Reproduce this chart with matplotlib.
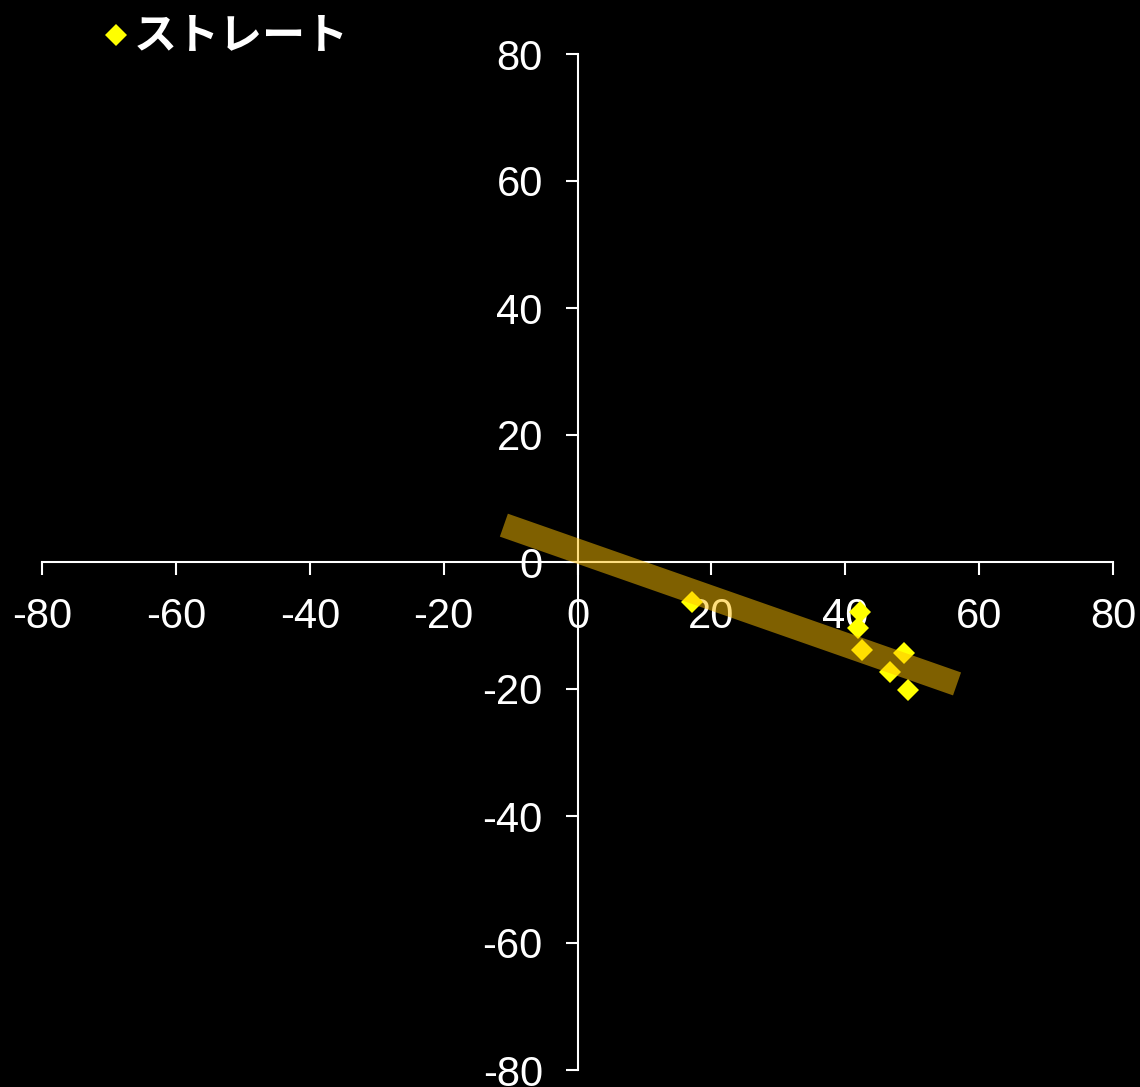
import matplotlib.pyplot as plt
from matplotlib.lines import Line2D

# pitch data (horizontal / vertical break)
series_name = 'ストレート'
pitch_x = [17.1, 42.2, 41.9, 42.5, 48.8, 46.7, 49.4]
pitch_y = [-6.3, -7.9, -10.4, -13.9, -14.3, -17.3, -20.2]

# trend band endpoints
trend_x = [-11.0, 56.7]
trend_y = [5.8, -19.2]

ticks = [-80, -60, -40, -20, 0, 20, 40, 60, 80]

plt.rcParams['font.family'] = ['Liberation Sans', 'DejaVu Sans']

W, H = 1140, 1087
fig = plt.figure(figsize=(W / 100, H / 100), dpi=100, facecolor='black')
ax = fig.add_axes([42 / W, (H - 1070) / H, (1113 - 42) / W, (1070 - 54) / H])
ax.set_facecolor('black')

ax.plot(pitch_x, pitch_y, linestyle='none', marker='D', markersize=11,
        color='#FFFF00', markeredgewidth=0, zorder=3, clip_on=False)
ax.plot(trend_x, trend_y, color='#FFC000', alpha=0.5, linewidth=17.5,
        solid_capstyle='butt', zorder=6)

ax.set_xlim(-80, 80)
ax.set_ylim(-80, 80)

for side in ['top', 'right']:
    ax.spines[side].set_visible(False)
ax.spines['left'].set_position(('data', 0))
ax.spines['bottom'].set_position(('data', 0))
for side in ['left', 'bottom']:
    ax.spines[side].set_color('white')
    ax.spines[side].set_linewidth(1.5)

ax.set_xticks(ticks)
ax.set_yticks(ticks)
ax.set_xticklabels([str(t) for t in ticks])
ax.set_yticklabels([str(t) for t in ticks])
ax.tick_params(colors='white', labelsize=30, length=9, width=1.5,
               direction='out', pad=16)

# legend
fig.add_artist(Line2D([116 / W], [1 - 35 / H], marker='D', markersize=11,
                      color='#FFFF00', markeredgewidth=0, linestyle='none',
                      transform=fig.transFigure))
fig.text(134 / W, 1 - 35 / H, series_name, color='white', fontsize=31,
         fontweight='bold', va='center', ha='left',
         family=['Noto Sans CJK JP', 'DejaVu Sans'])

fig.savefig('out.png', dpi=100, facecolor='black')
